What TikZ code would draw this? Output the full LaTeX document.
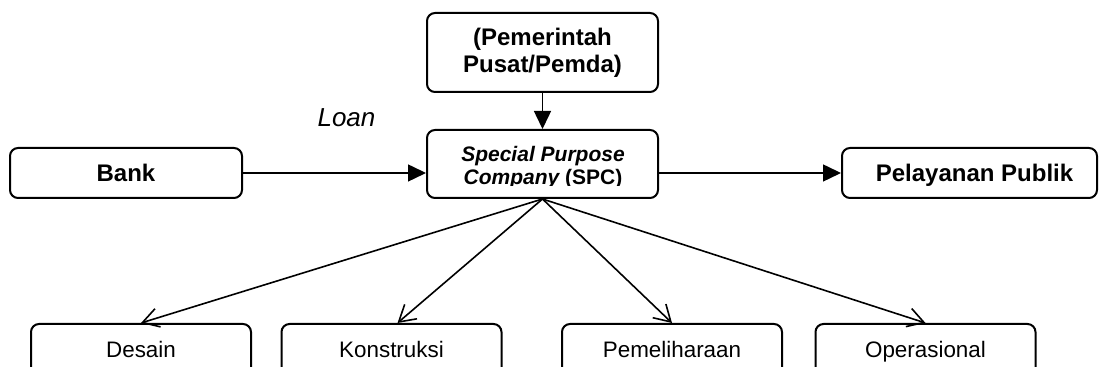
\documentclass[tikz,border=0pt]{standalone}
\usepackage{fontspec}
\setmainfont{Liberation Sans}
\usetikzlibrary{arrows.meta}
\begin{document}
\begin{tikzpicture}[x=0.5pt,y=-0.5pt,
  box/.style={draw,line width=1pt,rounded corners=4pt,inner sep=0pt,align=center},
  mainlbl/.style={font=\fontsize{12}{13.5}\selectfont\bfseries},
  onelinelbl/.style={text height=8.75pt,text depth=0pt},
  sublbl/.style={font=\fontsize{11.2}{13}\selectfont,text height=8pt,text depth=0pt,minimum width=110pt,minimum height=26pt},
  solidarrow/.style={draw,line width=0.75pt,-{Triangle[length=9pt,width=8.5pt]}},
  openarrow/.style={draw,line width=0.8pt,-{Straight Barb[length=8pt,width=9.5pt]}}
]
\useasboundingbox (0,0) rectangle (1099,367);
\begin{scope}
\clip (0,0) rectangle (1099,367);
\node[box,mainlbl,minimum width=115.5pt,minimum height=39.5pt] (gov) at (542.5,52.5) {(Pemerintah\\Pusat/Pemda)};
\node[box,minimum width=115.5pt,minimum height=34pt] (spc) at (542.5,164) {};
\node[box,mainlbl,onelinelbl,minimum width=116pt,minimum height=25pt] (bank) at (126,173) {Bank};
\node[box,mainlbl,onelinelbl,minimum width=127.5pt,minimum height=25pt] (pub) at (969.5,173) {\hspace*{5pt}Pelayanan Publik};
\node[box,sublbl] (des) at (141,350) {Desain};
\node[box,sublbl] (kon) at (391.5,350) {Konstruksi};
\node[box,sublbl] (pem) at (672,350) {Pemeliharaan};
\node[box,sublbl] (ops) at (925.5,350) {Operasional};
\end{scope}
\begin{scope}
\clip (428,131) rectangle (657,186);
\node[font=\fontsize{10.5}{11.5}\selectfont\bfseries,align=center,inner sep=0pt] (spclbl) at (543,168) {{\itshape Special Purpose}\\{\itshape Company} (SPC)};
\end{scope}
\node[font=\fontsize{13}{15}\selectfont\itshape,anchor=base,inner sep=0pt] (loan) at (346.5,127) {Loan};
\draw[solidarrow] (gov) -- (spc);
\draw[solidarrow] (bank.east) -- (bank.east -| spc.west);
\draw[solidarrow] (spc.east |- pub.west) -- (pub.west);
\draw[openarrow] (spc.south) -- (des.north);
\draw[openarrow] (spc.south) -- ([xshift=3pt]kon.north);
\draw[openarrow] (spc.south) -- (pem.north);
\draw[openarrow] (spc.south) -- (ops.north);
\end{tikzpicture}
\end{document}
